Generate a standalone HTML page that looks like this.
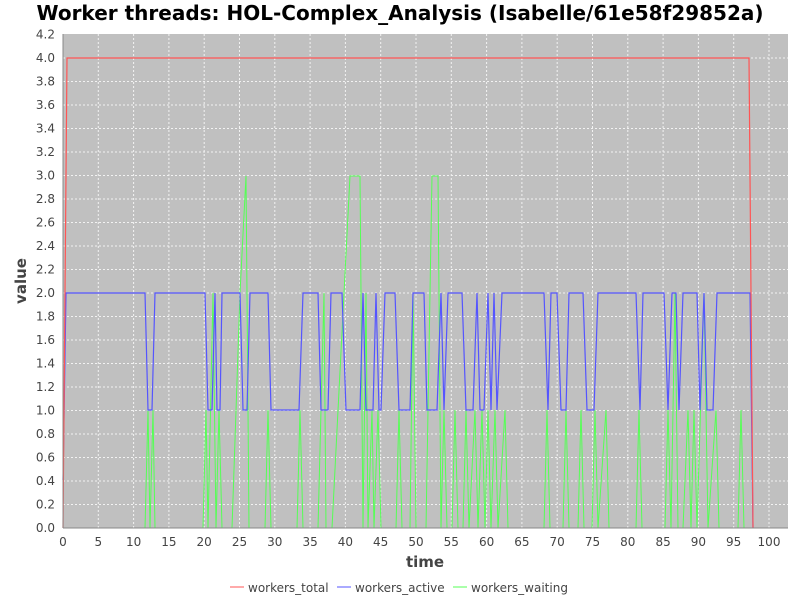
<!DOCTYPE html><html><head><style>body{margin:0;background:#fff}</style></head><body>
<svg width="800" height="600" xmlns="http://www.w3.org/2000/svg" font-family="DejaVu Sans, sans-serif">
<rect width="800" height="600" fill="#fff"/>
<text x="400" y="20" text-anchor="middle" font-size="20" font-weight="bold" fill="#000">Worker threads: HOL-Complex_Analysis (Isabelle/61e58f29852a)</text>
<rect x="63" y="34" width="725" height="494" fill="#c0c0c0"/>
<g stroke="#fff" stroke-dasharray="2,2" stroke-width="1" opacity="0.8">
<line x1="63" x2="788" y1="504.5" y2="504.5"/><line x1="63" x2="788" y1="481" y2="481"/><line x1="63" x2="788" y1="457.5" y2="457.5"/><line x1="63" x2="788" y1="434" y2="434"/><line x1="63" x2="788" y1="410.5" y2="410.5"/><line x1="63" x2="788" y1="387" y2="387"/><line x1="63" x2="788" y1="363.5" y2="363.5"/><line x1="63" x2="788" y1="340" y2="340"/><line x1="63" x2="788" y1="316.5" y2="316.5"/><line x1="63" x2="788" y1="293" y2="293"/><line x1="63" x2="788" y1="269.5" y2="269.5"/><line x1="63" x2="788" y1="246" y2="246"/><line x1="63" x2="788" y1="222.5" y2="222.5"/><line x1="63" x2="788" y1="199" y2="199"/><line x1="63" x2="788" y1="175.5" y2="175.5"/><line x1="63" x2="788" y1="152" y2="152"/><line x1="63" x2="788" y1="128.5" y2="128.5"/><line x1="63" x2="788" y1="105" y2="105"/><line x1="63" x2="788" y1="81.5" y2="81.5"/><line x1="63" x2="788" y1="58" y2="58"/>
<line y1="34" y2="528" x1="98.3" x2="98.3"/><line y1="34" y2="528" x1="133.6" x2="133.6"/><line y1="34" y2="528" x1="168.9" x2="168.9"/><line y1="34" y2="528" x1="204.2" x2="204.2"/><line y1="34" y2="528" x1="239.5" x2="239.5"/><line y1="34" y2="528" x1="274.8" x2="274.8"/><line y1="34" y2="528" x1="310.1" x2="310.1"/><line y1="34" y2="528" x1="345.4" x2="345.4"/><line y1="34" y2="528" x1="380.7" x2="380.7"/><line y1="34" y2="528" x1="416" x2="416"/><line y1="34" y2="528" x1="451.3" x2="451.3"/><line y1="34" y2="528" x1="486.6" x2="486.6"/><line y1="34" y2="528" x1="521.9" x2="521.9"/><line y1="34" y2="528" x1="557.2" x2="557.2"/><line y1="34" y2="528" x1="592.5" x2="592.5"/><line y1="34" y2="528" x1="627.8" x2="627.8"/><line y1="34" y2="528" x1="663.1" x2="663.1"/><line y1="34" y2="528" x1="698.4" x2="698.4"/><line y1="34" y2="528" x1="733.7" x2="733.7"/><line y1="34" y2="528" x1="769" x2="769"/>
</g>
<polyline fill="none" stroke="#55ff55" stroke-width="1" points="63,528 145,528 148,410 150,528 153,410 155,528 203,528 206,410 208,528 213,293 216,528 219,410 222,528 232,528 240,293 246,176 249,528 265,528 268,410 271,528 297,528 300,410 303,528 318,528 321,410 324,293 326,528 332,528 344,293 350,176 360,176 363,528 366,293 368,528 372,410 374,528 378,410 381,528 396,528 399,410 402,528 410,528 413,293 416,528 426,528 432,176 438,176 441,528 444,410 447,528 452,528 455,410 458,528 463,528 466,410 469,528 475,410 478,528 482,410 485,528 488,410 491,528 495,410 498,528 505,410 508,528 512,528 544,528 547,410 550,528 563,528 566,410 569,528 578,528 581,410 584,528 592,528 595,410 598,528 606,410 609,528 636,528 639,410 642,528 665,528 668,410 671,528 675,293 678,528 683,528 688,410 691,528 694,410 697,528 704,293 708,528 716,410 719,528 738,528 741,410 744,528"/>
<polyline fill="none" stroke="#5555ff" stroke-width="1.2" points="63,480 66,293 145,293 148,410 152,410 155,293 205,293 208,410 212,410 215,293 217,410 220,410 222,293 240,293 243,410 247,410 250,293 268,293 271,410 299,410 303,293 318,293 321,410 328,410 331,293 342,293 346,410 360,410 363,293 366,410 373,410 376,293 379,410 381,410 385,293 395,293 399,410 410,410 413,293 424,293 427,410 437,410 441,293 444,410 448,293 462,293 466,410 473,410 477,293 480,410 484,410 488,293 491,410 494,293 497,410 502,293 544,293 548,410 551,293 557,293 561,410 566,410 569,293 583,293 587,410 594,410 598,293 636,293 640,410 643,293 664,293 668,410 672,293 676,293 679,410 683,293 697,293 700,410 704,293 707,410 713,410 717,293 750,293 753,528"/>
<polyline fill="none" stroke="#ff5555" stroke-width="1.2" points="63,528 67,58 749,58 753,528"/>
<line x1="63" y1="34" x2="63" y2="528" stroke="#888"/><line x1="63" y1="528" x2="788" y2="528" stroke="#888"/>
<g font-size="12" fill="#444" text-anchor="end">
<text x="55" y="532">0.0</text><text x="55" y="485">0.4</text><text x="55" y="508.5">0.2</text><text x="55" y="461.5">0.6</text><text x="55" y="438">0.8</text><text x="55" y="414.5">1.0</text><text x="55" y="391">1.2</text><text x="55" y="367.5">1.4</text><text x="55" y="344">1.6</text><text x="55" y="320.5">1.8</text><text x="55" y="297">2.0</text><text x="55" y="273.5">2.2</text><text x="55" y="250">2.4</text><text x="55" y="226.5">2.6</text><text x="55" y="203">2.8</text><text x="55" y="179.5">3.0</text><text x="55" y="156">3.2</text><text x="55" y="132.5">3.4</text><text x="55" y="109">3.6</text><text x="55" y="85.5">3.8</text><text x="55" y="62">4.0</text><text x="55" y="38.5">4.2</text>
</g>
<g font-size="12" fill="#444" text-anchor="middle">
<text x="63" y="546">0</text><text x="98.3" y="546">5</text><text x="133.6" y="546">10</text><text x="168.9" y="546">15</text><text x="204.2" y="546">20</text><text x="239.5" y="546">25</text><text x="274.8" y="546">30</text><text x="310.1" y="546">35</text><text x="345.4" y="546">40</text><text x="380.7" y="546">45</text><text x="416" y="546">50</text><text x="451.3" y="546">55</text><text x="486.6" y="546">60</text><text x="521.9" y="546">65</text><text x="557.2" y="546">70</text><text x="592.5" y="546">75</text><text x="627.8" y="546">80</text><text x="663.1" y="546">85</text><text x="698.4" y="546">90</text><text x="733.7" y="546">95</text><text x="769" y="546">100</text>
</g>
<text x="425" y="567" text-anchor="middle" font-size="15" font-weight="bold" fill="#444">time</text>
<text transform="translate(26,281) rotate(-90)" text-anchor="middle" font-size="15" font-weight="bold" fill="#444">value</text>
<g font-size="12" fill="#444">
<line x1="230" x2="244" y1="587" y2="587" stroke="#ff5555"/><text x="248" y="592">workers_total</text>
<line x1="337" x2="351" y1="587" y2="587" stroke="#5555ff"/><text x="355" y="592">workers_active</text>
<line x1="453" x2="467" y1="587" y2="587" stroke="#55ff55"/><text x="471" y="592">workers_waiting</text>
</g>
</svg></body></html>
